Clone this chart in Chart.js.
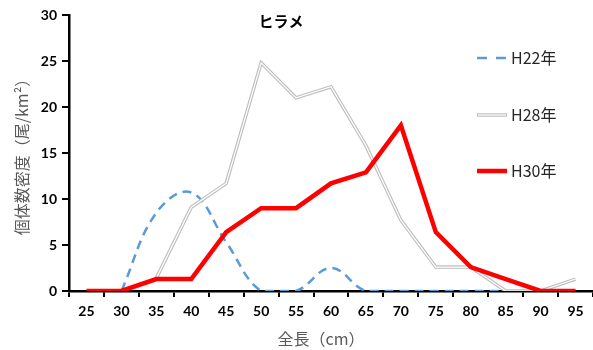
<!DOCTYPE html>
<html><head><meta charset="utf-8">
<script src="https://cdn.jsdelivr.net/npm/chart.js@4/dist/chart.umd.min.js"></script>
<style>html,body{margin:0;padding:0;background:#fff;}#wrap{width:593px;height:350px;position:relative;}</style>
</head><body><div id="wrap"><canvas id="c" width="593" height="350"></canvas></div>
<script>
const categories = ['25','30','35','40','45','50','55','60','65','70','75','80','85','90','95'];
const h22 = [null, 0, 8.5, 10.7, 5.3, 0, 0, 2.5, 0, 0, 0, 0, 0, null, null];
const h28 = [null, null, 1.4, 9.1, 11.7, 24.8, 21.0, 22.2, 15.8, 7.7, 2.6, 2.6, 0, 0, 1.3];
const h30 = [0, 0, 1.3, 1.3, 6.4, 9.0, 9.0, 11.7, 12.9, 18.0, 6.4, 2.6, 1.3, 0, 0];
const yTicks = [0, 5, 10, 15, 20, 25, 30];
const seriesNames = ['H22年', 'H28年', 'H30年'];
const chartTitle = 'ヒラメ';
const xTitle = '全長（cm）';
const yTitle = '個体数密度（尾/km²）';

const JP = '"Noto Sans CJK JP", "Noto Sans", sans-serif';

const overlay = {
  id: 'overlay',
  afterDraw(chart) {
    const ctx = chart.ctx;
    ctx.save();
    ctx.fillStyle = '#000';
    ctx.font = 'bold 15px ' + JP;
    ctx.textAlign = 'center';
    ctx.textBaseline = 'middle';
    ctx.fillText(chartTitle, 281, 21);
    ctx.fillStyle = '#595959';
    ctx.font = '16px ' + JP;
    ctx.fillText(xTitle, 321, 339);
    ctx.translate(22, 153);
    ctx.rotate(-Math.PI / 2);
    ctx.fillText(yTitle, 0, 0);
    ctx.restore();

    // legend
    ctx.save();
    const items = [
      {y: 58, draw: (x1, x2, y) => { ctx.strokeStyle = '#5b9bd5'; ctx.lineWidth = 2.5; ctx.setLineDash([10, 9]); ctx.beginPath(); ctx.moveTo(x1, y); ctx.lineTo(x2, y); ctx.stroke(); ctx.setLineDash([]); }},
      {y: 115, draw: (x1, x2, y) => { ctx.strokeStyle = '#bfbfbf'; ctx.lineWidth = 3.5; ctx.beginPath(); ctx.moveTo(x1, y); ctx.lineTo(x2, y); ctx.stroke(); ctx.strokeStyle = '#fff'; ctx.lineWidth = 1.2; ctx.beginPath(); ctx.moveTo(x1 + 1, y); ctx.lineTo(x2 - 1, y); ctx.stroke(); }},
      {y: 171, draw: (x1, x2, y) => { ctx.strokeStyle = '#ff0000'; ctx.lineWidth = 4.5; ctx.beginPath(); ctx.moveTo(x1, y); ctx.lineTo(x2, y); ctx.stroke(); }}
    ];
    items.forEach((it, i) => {
      it.draw(477, 507, it.y);
      ctx.fillStyle = '#262626';
      ctx.font = '16px ' + JP;
      ctx.textAlign = 'left';
      ctx.textBaseline = 'middle';
      ctx.fillText(seriesNames[i], 511, it.y);
    });
    ctx.restore();
  }
};

new Chart(document.getElementById('c'), {
  type: 'line',
  data: {
    labels: categories,
    datasets: [
      {label: seriesNames[2], data: h30, borderColor: '#ff0000', borderWidth: 4.5, pointRadius: 0, order: 0, tension: 0, borderJoinStyle: 'miter'},
      {label: 'h28inner', data: h28, borderColor: '#ffffff', borderWidth: 1.2, pointRadius: 0, order: 1, tension: 0},
      {label: seriesNames[1], data: h28, borderColor: '#bfbfbf', borderWidth: 3.5, pointRadius: 0, order: 2, tension: 0},
      {label: seriesNames[0], data: h22, borderColor: '#5b9bd5', borderWidth: 2.5, borderDash: [9, 6], pointRadius: 0, order: 3, tension: 0.4, cubicInterpolationMode: 'default'}
    ]
  },
  options: {
    responsive: false,
    animation: false,
    devicePixelRatio: 1,
    layout: {padding: {top: 15, right: 0, left: 0, bottom: 0}},
    plugins: {legend: {display: false}, tooltip: {enabled: false}},
    elements: {line: {capBezierPoints: true}},
    scales: {
      x: {
        offset: true,
        grid: {offset: true, drawOnChartArea: false, drawTicks: true, tickLength: 6, color: '#000', lineWidth: 2},
        border: {display: true, color: '#000', width: 2.5},
        ticks: {color: '#000', font: {family: 'Lato, "Liberation Sans", sans-serif', size: 14, weight: 'bold'}, padding: 6, maxRotation: 0, autoSkip: false},
        afterFit(s) { s.height = 59; }
      },
      y: {
        min: 0, max: 30,
        afterBuildTicks(s) { s.ticks = yTicks.map(v => ({value: v})); },
        grid: {drawOnChartArea: false, drawTicks: true, tickLength: 7, color: '#000', lineWidth: 2},
        border: {display: true, color: '#000', width: 2.5},
        ticks: {color: '#000', font: {family: 'Lato, "Liberation Sans", sans-serif', size: 14, weight: 'bold'}, padding: 5},
        afterFit(s) { s.width = 69; }
      }
    }
  },
  plugins: [overlay]
});
</script>
</body></html>
